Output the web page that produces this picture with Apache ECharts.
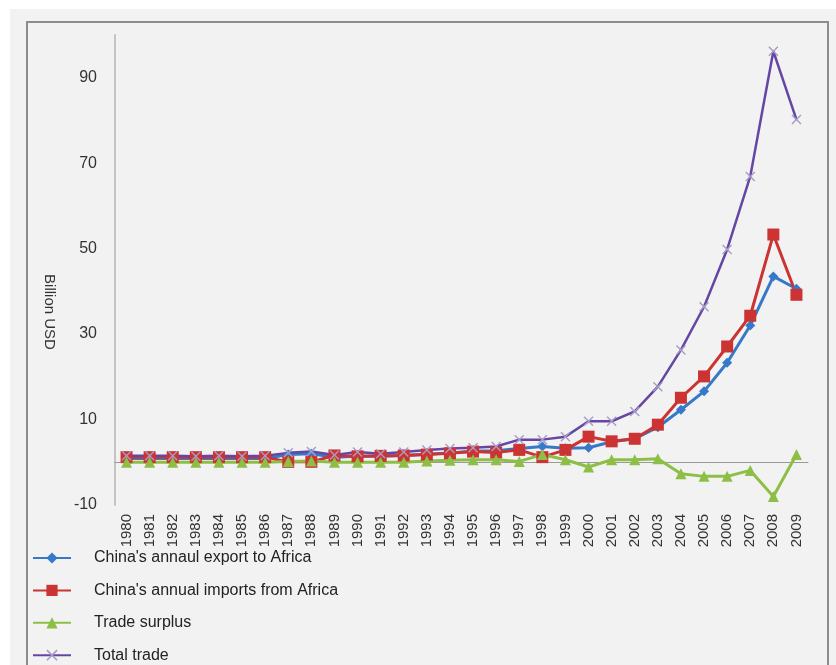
<!DOCTYPE html>
<html>
<head>
<meta charset="utf-8">
<script src="https://cdn.jsdelivr.net/npm/echarts@6/dist/echarts.min.js"></script>
<style>
  html, body { margin: 0; padding: 0; background: #ffffff; }
  #chart { width: 836px; height: 665px; }
</style>
</head>
<body>
<div id="chart"></div>
<script>
// China–Africa trade, billion USD, 1980–2009
const years = ['1980','1981','1982','1983','1984','1985','1986','1987','1988','1989',
  '1990','1991','1992','1993','1994','1995','1996','1997','1998','1999',
  '2000','2001','2002','2003','2004','2005','2006','2007','2008','2009'];

const exportToAfrica = [0.9, 0.9, 0.9, 0.9, 0.9, 0.9, 0.9, 1.8, 2.0, 1.2,
  1.4, 1.4, 1.6, 1.9, 2.2, 2.6, 2.7, 3.2, 3.7, 3.3,
  3.4, 4.8, 5.5, 8.2, 12.3, 16.6, 23.3, 32.0, 43.5, 40.6];

const importsFromAfrica = [1.2, 1.2, 1.2, 1.2, 1.2, 1.2, 1.2, 0.1, 0.1, 1.6,
  1.4, 1.5, 1.6, 1.8, 2.1, 2.5, 2.3, 2.9, 1.2, 2.9,
  6.0, 4.9, 5.5, 8.8, 15.1, 20.1, 27.1, 34.3, 53.3, 39.2];

const tradeSurplus = [0, 0, 0, 0, 0, 0, 0, 0.2, 0.3, 0,
  0, 0, 0, 0.3, 0.5, 0.6, 0.6, 0.2, 1.8, 0.6,
  -1.1, 0.6, 0.6, 0.8, -2.7, -3.3, -3.3, -1.9, -8.0, 1.8];

const totalTrade = [1.5, 1.5, 1.5, 1.4, 1.5, 1.4, 1.5, 2.2, 2.5, 1.7,
  2.4, 2.0, 2.4, 2.9, 3.2, 3.4, 3.7, 5.3, 5.3, 6.0,
  9.6, 9.6, 11.9, 17.7, 26.3, 36.4, 49.8, 66.9, 96.2, 80.2];

const seriesNames = [
  "China's annaul export to Africa",
  "China's annual imports from Africa",
  'Trade surplus',
  'Total trade'
];

// filled "x" cross used as the total-trade marker
const crossSymbol = 'path://M0,1 L1,0 L5,4 L9,0 L10,1 L6,5 L10,9 L9,10 L5,6 L1,10 L0,9 L4,5 Z';

const FONT = '"Liberation Sans", Arial, sans-serif';

const chart = echarts.init(document.getElementById('chart'), null, { renderer: 'canvas' });

chart.setOption({
  animation: false,
  backgroundColor: '#ffffff',
  graphic: [
    { type: 'rect', z: -10, silent: true,
      shape: { x: 10, y: 9, width: 826, height: 656 },
      style: { fill: '#f2f2f2' } },
    { type: 'rect', z: -9, silent: true,
      shape: { x: 27, y: 22, width: 801, height: 700 },
      style: { fill: 'none', stroke: '#8c8c8c', lineWidth: 2 } },
    { type: 'text', silent: true,
      x: 49, y: 312, rotation: -Math.PI / 2,
      style: { text: 'Billion USD', fill: '#333333', font: '15px ' + FONT,
               align: 'center', verticalAlign: 'middle' } }
  ],
  grid: { left: 115, right: 28, top: 35, bottom: 160, containLabel: false },
  legend: {
    orient: 'vertical',
    left: 27, top: 545, height: 160,
    itemWidth: 38, itemHeight: 14, itemGap: 16.4,
    data: seriesNames,
    textStyle: { color: '#222222', fontSize: 16, lineHeight: 14, fontFamily: FONT,
                 padding: [0, 0, 0, 18] }
  },
  xAxis: {
    type: 'category',
    data: years,
    boundaryGap: true,
    axisLine: { onZero: true, lineStyle: { color: '#9a9a9a', width: 1 } },
    axisTick: { show: false },
    axisLabel: { interval: 0, rotate: 90, margin: 9, color: '#333333',
                 fontSize: 15, fontFamily: FONT }
  },
  yAxis: {
    type: 'value',
    min: -10, max: 100, interval: 10,
    axisLine: { show: true, lineStyle: { color: '#c4c4c4', width: 2 } },
    axisTick: { show: false },
    splitLine: { show: false },
    axisLabel: {
      margin: 18, color: '#333333', fontSize: 16, fontFamily: FONT,
      formatter: v => ((v + 10) % 20 === 0 ? String(v) : '')
    }
  },
  series: [
    { name: seriesNames[0], type: 'line', data: exportToAfrica,
      symbol: 'diamond', symbolSize: 10,
      lineStyle: { color: '#3579c8', width: 3 },
      itemStyle: { color: '#3579c8' } },
    { name: seriesNames[1], type: 'line', data: importsFromAfrica,
      symbol: 'rect', symbolSize: 12,
      lineStyle: { color: '#cc3333', width: 3 },
      itemStyle: { color: '#cc3333' } },
    { name: seriesNames[2], type: 'line', data: tradeSurplus,
      symbol: 'triangle', symbolSize: 11,
      lineStyle: { color: '#8dbe45', width: 3 },
      itemStyle: { color: '#8dbe45' } },
    { name: seriesNames[3], type: 'line', data: totalTrade,
      symbol: crossSymbol, symbolSize: 10,
      lineStyle: { color: '#6646a3', width: 2.5 },
      itemStyle: { color: '#a79bc8' } }
  ]
});
</script>
</body>
</html>
